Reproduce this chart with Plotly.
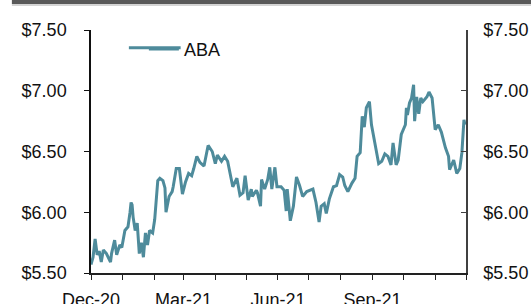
import plotly.graph_objects as go

dates = [
    "2020-12-01", "2020-12-03", "2020-12-05", "2020-12-07", "2020-12-09", "2020-12-11",
    "2020-12-13", "2020-12-16", "2020-12-20", "2020-12-21", "2020-12-24", "2020-12-26",
    "2020-12-29", "2020-12-31", "2021-01-03", "2021-01-06", "2021-01-08", "2021-01-09",
    "2021-01-10", "2021-01-11", "2021-01-13", "2021-01-15", "2021-01-17", "2021-01-19",
    "2021-01-21", "2021-01-23", "2021-01-25", "2021-01-27", "2021-01-30", "2021-02-01",
    "2021-02-04", "2021-02-06", "2021-02-09", "2021-02-11", "2021-02-12", "2021-02-15",
    "2021-02-18", "2021-02-19", "2021-02-22", "2021-02-25", "2021-02-28", "2021-03-03",
    "2021-03-06", "2021-03-09", "2021-03-11", "2021-03-14", "2021-03-17", "2021-03-21",
    "2021-03-25", "2021-03-29", "2021-04-01", "2021-04-03", "2021-04-07", "2021-04-10",
    "2021-04-13", "2021-04-14", "2021-04-18", "2021-04-22", "2021-04-25", "2021-04-28",
    "2021-04-30", "2021-05-03", "2021-05-06", "2021-05-07", "2021-05-11", "2021-05-12",
    "2021-05-15", "2021-05-16", "2021-05-19", "2021-05-22", "2021-05-24", "2021-05-26",
    "2021-05-29", "2021-05-31", "2021-06-04", "2021-06-07", "2021-06-09", "2021-06-10",
    "2021-06-13", "2021-06-16", "2021-06-19", "2021-06-22", "2021-06-25", "2021-06-29",
    "2021-07-05", "2021-07-08", "2021-07-11", "2021-07-13", "2021-07-16", "2021-07-18",
    "2021-07-21", "2021-07-25", "2021-07-28", "2021-07-31", "2021-08-03", "2021-08-05",
    "2021-08-08", "2021-08-12", "2021-08-15", "2021-08-17", "2021-08-20", "2021-08-22",
    "2021-08-24", "2021-08-26", "2021-08-29", "2021-08-31", "2021-09-03", "2021-09-07",
    "2021-09-10", "2021-09-13", "2021-09-16", "2021-09-19", "2021-09-21", "2021-09-24",
    "2021-09-26", "2021-09-29", "2021-10-03", "2021-10-04", "2021-10-05", "2021-10-07",
    "2021-10-09", "2021-10-11", "2021-10-12", "2021-10-14", "2021-10-16", "2021-10-18",
    "2021-10-20", "2021-10-24", "2021-10-26", "2021-10-29", "2021-11-01", "2021-11-04",
    "2021-11-07", "2021-11-11", "2021-11-14", "2021-11-15", "2021-11-19", "2021-11-22",
    "2021-11-25", "2021-11-27", "2021-11-29", "2021-11-30",
]

aba_price = [
    5.57, 5.63, 5.78, 5.65, 5.68, 5.59,
    5.69, 5.66, 5.59, 5.66, 5.77, 5.65,
    5.73, 5.71, 5.85, 5.88, 6.00, 6.08,
    6.06, 5.96, 5.85, 5.91, 5.66, 5.75,
    5.63, 5.83, 5.73, 5.85, 5.83, 5.94,
    6.26, 6.28, 6.26, 6.20, 6.00, 6.13,
    6.17, 6.21, 6.36, 6.36, 6.15, 6.25,
    6.32, 6.30, 6.36, 6.46, 6.41, 6.38,
    6.55, 6.50, 6.40, 6.47, 6.42, 6.46,
    6.42, 6.38, 6.21, 6.28, 6.14, 6.16,
    6.30, 6.10, 6.19, 6.13, 6.18, 6.16,
    6.05, 6.27, 6.19, 6.27, 6.37, 6.19,
    6.37, 6.21, 6.21, 6.18, 6.01, 6.19,
    5.93, 6.05, 6.29, 6.22, 6.13, 6.17,
    6.19, 6.08, 5.92, 6.05, 6.07, 5.99,
    6.11, 6.21, 6.22, 6.31, 6.29, 6.22,
    6.17, 6.24, 6.28, 6.46, 6.49, 6.79,
    6.70, 6.86, 6.91, 6.72, 6.59, 6.40,
    6.42, 6.48, 6.46, 6.39, 6.57, 6.39,
    6.43, 6.64, 6.72, 6.86, 6.80, 6.90,
    6.94, 7.05, 6.75, 6.95, 6.81, 6.94,
    6.91, 6.95, 6.99, 6.94, 6.68, 6.72,
    6.66, 6.53, 6.46, 6.35, 6.43, 6.32,
    6.36, 6.49, 6.76, 6.72,
]

y_ticks = [5.5, 6.0, 6.5, 7.0, 7.5]
x_tick_dates = ["2020-12-01", "2021-03-01", "2021-06-01", "2021-09-01"]
x_tick_labels = ["Dec-20", "Mar-21", "Jun-21", "Sep-21"]
x_range = ["2020-12-01", "2021-12-01"]

LINE_COLOR = "#4E8B9B"
FONT = "Liberation Sans, Arial, sans-serif"

fig = go.Figure()
fig.add_trace(go.Scatter(
    x=dates, y=aba_price, mode="lines", name="ABA",
    line=dict(color=LINE_COLOR, width=3),
))
fig.add_trace(go.Scatter(
    x=dates, y=aba_price, mode="lines", yaxis="y2", showlegend=False,
    line=dict(color="rgba(0,0,0,0)", width=0), hoverinfo="skip",
))

fig.update_layout(
    width=531, height=304,
    margin=dict(l=91, r=65, t=30, b=31, autoexpand=False),
    paper_bgcolor="white", plot_bgcolor="white",
    font=dict(family=FONT, size=18, color="#111111"),
    showlegend=True,
    legend=dict(x=0.141, y=0.997, xanchor="left", yanchor="top",
                bgcolor="rgba(0,0,0,0)", font=dict(size=18)),
    xaxis=dict(
        type="date", range=x_range, tickvals=x_tick_dates, ticktext=x_tick_labels,
        ticks="outside", ticklen=5, tickcolor="#222222",
        showline=True, linecolor="#222222", linewidth=1.5,
        showgrid=False, zeroline=False, ticklabelstandoff=5, automargin=False,
        minor=dict(tick0="2020-12-01", dtick="M1", ticks="outside", ticklen=5,
                   tickcolor="#222222", showgrid=False),
    ),
    yaxis=dict(
        range=[5.5, 7.5], tickvals=y_ticks, tickformat="$.2f",
        ticks="outside", ticklen=5, tickcolor="#111111",
        showline=True, linecolor="#111111", linewidth=1.5,
        showgrid=False, zeroline=False, ticklabelstandoff=14, automargin=False,
    ),
    yaxis2=dict(
        range=[5.5, 7.5], tickvals=y_ticks, tickformat="$.2f",
        overlaying="y", side="right",
        ticks="inside", ticklen=5, tickcolor="#404040",
        showline=True, linecolor="#404040", linewidth=1.5,
        showgrid=False, zeroline=False, ticklabelstandoff=12, automargin=False,
    ),
    shapes=[
        dict(type="rect", xref="paper", yref="paper", x0=-0.211, x1=1.2,
             y0=1.107, y1=1.2, fillcolor="#595959", line=dict(width=0), layer="above"),
        dict(type="rect", xref="paper", yref="paper", x0=-0.211, x1=1.2,
             y0=1.099, y1=1.107, fillcolor="#d4d4d4", line=dict(width=0), layer="above"),
        # full-length legend line sample, drawn over the legend's own short one
        dict(type="line", xref="paper", yref="paper", x0=0.101, x1=0.239,
             y0=0.9265, y1=0.9265, line=dict(color=LINE_COLOR, width=3), layer="above"),
    ],
)

fig.write_html("out.html", config={"displayModeBar": False},
               post_script="document.body.style.margin='0';")
